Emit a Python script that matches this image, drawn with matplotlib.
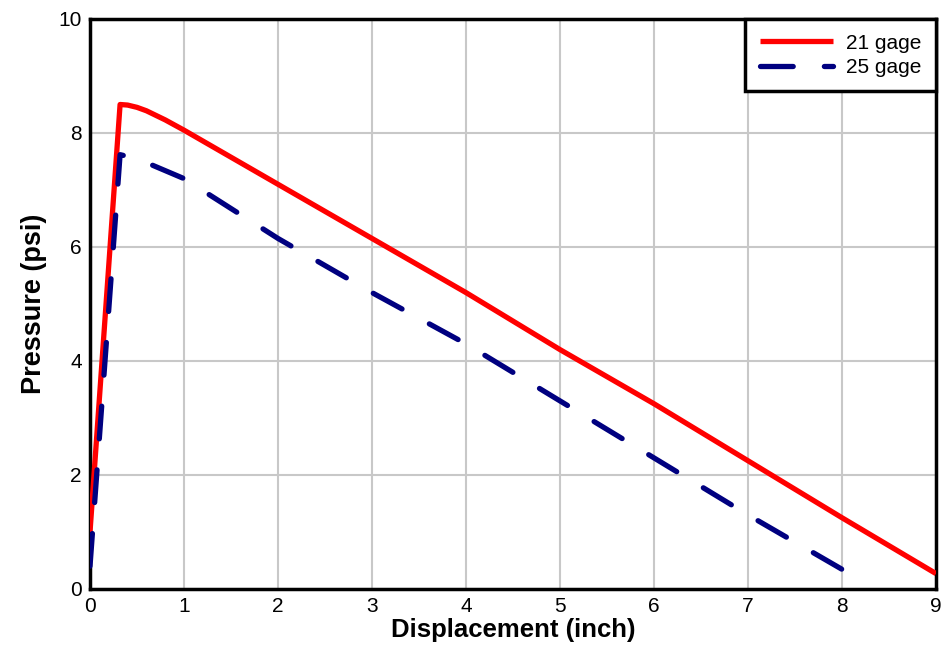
import matplotlib
matplotlib.use("Agg")
import matplotlib.pyplot as plt

# 21 gage
x_21 = [0.0, 0.32, 0.4, 0.5, 0.6, 0.7, 0.8, 1.0, 2.0, 3.0, 4.0, 5.0, 6.0, 7.0, 8.0, 9.0]
p_21 = [1.0, 8.5, 8.49, 8.45, 8.39, 8.31, 8.23, 8.05, 7.1, 6.15, 5.2, 4.2, 3.25, 2.25, 1.25, 0.27]

# 25 gage
x_25 = [0.0, 0.32, 0.5, 1.0, 2.0, 3.0, 4.0, 5.0, 6.0, 7.0, 8.1]
p_25 = [0.4, 7.62, 7.55, 7.2, 6.15, 5.2, 4.3, 3.3, 2.3, 1.3, 0.25]

plt.rcParams["font.family"] = "Liberation Sans"

fig = plt.figure(figsize=(9.47, 6.64), dpi=100)
ax = fig.add_axes([90/947, 75/664, 846/947, 570/664])

ax.grid(color="#c8c8c8", linewidth=1.5)
ax.set_axisbelow(True)

ax.plot(x_21, p_21, color="#ff0000", linewidth=3.8, label="21 gage",
        solid_capstyle="butt", solid_joinstyle="round", zorder=3)
ax.plot(x_25, p_25, color="#000080", linewidth=3.8, label="25 gage",
        dashes=(6.2, 5.9), dash_capstyle="round", zorder=4)

ax.set_xlim(0, 9)
ax.set_ylim(0, 10)
ax.set_xticks(range(0, 10))
ax.set_yticks(range(0, 11, 2))
ax.tick_params(length=0, labelsize=15, pad=6)

for s in ax.spines.values():
    s.set_linewidth(2.5)
    s.set_color("black")

ax.set_xlabel("Displacement (inch)", fontsize=18.5, fontweight="bold", labelpad=1)
ax.set_ylabel("Pressure (psi)", fontsize=19.5, fontweight="bold", labelpad=8)

leg = ax.legend(loc="upper right", fontsize=15, fancybox=False, framealpha=1,
                edgecolor="black", handlelength=3.5, handletextpad=0.65,
                borderaxespad=0, borderpad=0.7, labelspacing=0.25)
leg.get_frame().set_linewidth(2.5)

fig.savefig("out.png", dpi=100)
